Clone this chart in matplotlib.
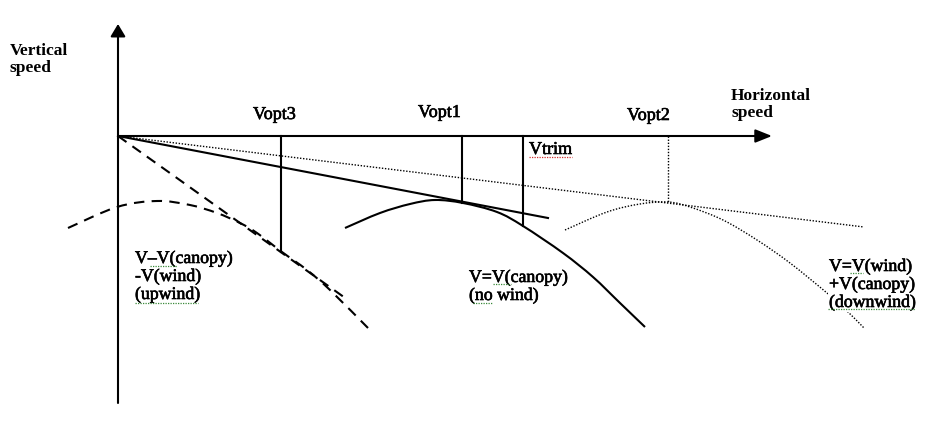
import matplotlib
matplotlib.use("Agg")
import matplotlib.pyplot as plt
import matplotlib.patheffects as pe
from matplotlib.path import Path
from matplotlib.patches import PathPatch
import numpy as np

plt.rcParams['font.family'] = ['Liberation Serif', 'DejaVu Serif']

# ---- data (diagram units: origin at axes crossing, y = vertical speed) ----
nowind_x = [227, 262, 292, 317, 345, 379, 405, 445, 475, 502, 527]
nowind_y = [-92, -77, -68, -64, -67, -76, -90, -117, -141, -167, -191]

upwind_x = [-50, -1, 39, 72, 99, 122, 139, 164, 189, 212, 250]
upwind_y = [-92, -71, -65, -69, -77, -87, -97, -116, -134, -154, -192]

downwind_x = [447, 489, 522, 550, 572, 605, 639, 672, 709, 727, 746]
downwind_y = [-94, -76, -68, -66, -71, -84, -104, -127, -157, -173, -192]

tangent_nowind_x = [0, 430]
tangent_nowind_y = [0, -82]
tangent_upwind_x = [0, 230]
tangent_upwind_y = [0, -164]
tangent_downwind_x = [0, 746]
tangent_downwind_y = [0, -91]

marker_names = ["Vopt3", "Vopt1", "Vtrim", "Vopt2"]
marker_x = [163, 344, 405, 550]
marker_y = [-116, -67, -90, -66]


def smooth_curve(ax, xs, ys, **kw):
    """Draw a smooth (Catmull-Rom as cubic Bezier) path through the given points."""
    P = np.column_stack([xs, ys]).astype(float)
    n = len(P)
    verts = [P[0]]
    codes = [Path.MOVETO]
    for i in range(n - 1):
        p0 = P[i - 1] if i > 0 else P[i]
        p1, p2 = P[i], P[i + 1]
        p3 = P[i + 2] if i + 2 < n else P[i + 1]
        verts += [p1 + (p2 - p0) / 6, p2 - (p3 - p1) / 6, p2]
        codes += [Path.CURVE4] * 3
    ax.add_patch(PathPatch(Path(verts, codes), fill=False, **kw))


fig = plt.figure(figsize=(9.25, 4.23), dpi=100)
ax = fig.add_axes([0, 0, 1, 1])
ax.set_xlim(-118, 807)
ax.set_ylim(-287, 136)
ax.axis('off')

lw = 1.5
# axes arrows
ax.annotate('', xy=(654, 0), xytext=(0, 0),
            arrowprops=dict(arrowstyle='-|>,head_length=1.0,head_width=0.4',
                            lw=lw, color='black', mutation_scale=10,
                            shrinkA=0, shrinkB=0))
ax.annotate('', xy=(0, 112), xytext=(0, -267),
            arrowprops=dict(arrowstyle='-|>,head_length=0.75,head_width=0.45',
                            lw=lw, color='black', mutation_scale=10,
                            shrinkA=0, shrinkB=0))

# curves
smooth_curve(ax, nowind_x, nowind_y, edgecolor='black', lw=lw)
ax.plot(tangent_nowind_x, tangent_nowind_y, color='black', lw=lw)
smooth_curve(ax, upwind_x, upwind_y, edgecolor='black', lw=lw, linestyle=(0, (5, 3.5)))
ax.plot(tangent_upwind_x, tangent_upwind_y, color='black', lw=lw, dashes=(5, 3.5))
smooth_curve(ax, downwind_x, downwind_y, edgecolor='black', lw=1.0, linestyle=(0, (1, 1.2)))
ax.plot(tangent_downwind_x, tangent_downwind_y, color='black', lw=1.0, dashes=(1, 1.2))

# vertical marker lines
for name, mx, my in zip(marker_names, marker_x, marker_y):
    if name == "Vopt2":
        ax.plot([mx, mx], [0, my], color='black', lw=1.0, dashes=(1, 1.2))
    else:
        ax.plot([mx, mx], [0, my], color='black', lw=lw)

# labels
thick = [pe.withStroke(linewidth=0.45, foreground='black')]
bold = dict(fontsize=12.5, fontweight='bold', color='black', va='baseline', ha='left')
reg = dict(fontsize=13, color='black', va='baseline', ha='left', path_effects=thick)
ax.text(-108, 81, "Vertical", **bold)
ax.text(-108, 64, "speed", **bold)
ax.text(613, 36, "Horizontal", **bold)
ax.text(613, 19, "speed", **bold)

label_pos = {"Vopt3": (135, 17), "Vopt1": (300, 19), "Vtrim": (411, -18), "Vopt2": (509, 16)}
for name in marker_names:
    ax.text(*label_pos[name], name, **reg)

cond = dict(fontsize=12.8, color='black', va='baseline', ha='left', zorder=5,
            path_effects=thick,
            bbox=dict(facecolor='white', edgecolor='none', pad=0.5))
for txt, y in zip(["V\u2013V(canopy)", "-V(wind)", "(upwind)"], [-127, -145, -163]):
    ax.text(17, y, txt, **cond)
for txt, y in zip(["V=V(canopy)", "(no wind)"], [-146, -164]):
    ax.text(351, y, txt, **cond)
for txt, y in zip(["V=V(wind)", "+V(canopy)", "(downwind)"], [-135, -153, -171]):
    ax.text(711, y, txt, **cond)

# spell-check underlines
sq = dict(lw=0.9, dashes=(1, 1), zorder=6)
ax.plot([411, 454], [-21, -21], color='#d03030', **sq)
green = '#3a8a3a'
for x0, x1, y in [(32, 59, -130), (17, 80, -167), (375, 393, -148), (355, 375, -167),
                  (732, 745, -137), (710, 797, -173)]:
    ax.plot([x0, x1], [y, y], color=green, **sq)

fig.savefig("out.png", dpi=100)
